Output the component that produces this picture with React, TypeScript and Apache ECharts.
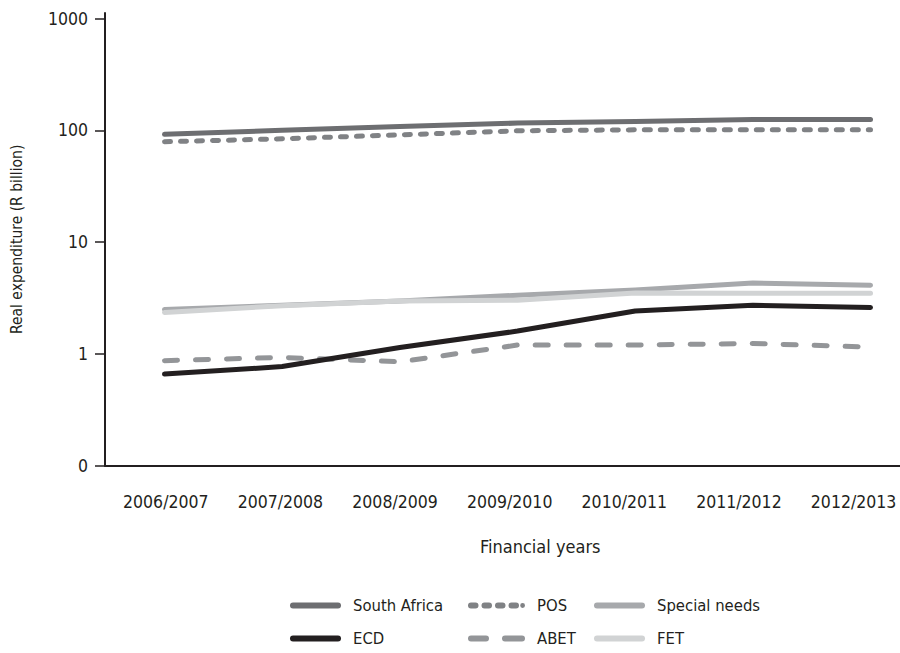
import React, { useEffect, useRef } from "react";
import * as echarts from "echarts";

const categories = ["2006/2007", "2007/2008", "2008/2009", "2009/2010", "2010/2011", "2011/2012", "2012/2013"];
const southAfrica = [92, 100, 108, 116, 120, 125, 125];
const pos = [79, 84, 91, 99, 101, 101, 101];
const specialNeeds = [2.5, 2.72, 2.98, 3.35, 3.72, 4.3, 4.12];
const fet = [2.35, 2.7, 2.98, 3.02, 3.5, 3.48, 3.48];
const ecd = [0.66, 0.77, 1.14, 1.6, 2.42, 2.72, 2.6];
const abet = [0.87, 0.93, 0.85, 1.2, 1.2, 1.24, 1.15];
const yTicks = [0.1, 1, 10, 100, 1000];

const FONT = "'DejaVu Sans Condensed', 'DejaVu Sans', sans-serif";
const INK = "#231f20";

// rounded segment path, 6 units tall
const seg = (a: number, b: number) =>
  `M${a + 3} 0 L${b - 3} 0 A3 3 0 0 1 ${b - 3} 6 L${a + 3} 6 A3 3 0 0 1 ${a + 3} 0 Z`;
const dot = (cx: number, r: number) => `M${cx - r} 3 A${r} ${r} 0 1 0 ${cx + r} 3 A${r} ${r} 0 1 0 ${cx - r} 3 Z`;
const ICON_SOLID = "path://" + seg(0, 51);
const ICON_POS = "path://" + seg(0, 10.5) + " " + seg(13.5, 24) + " " + seg(27, 37.5) + " " + seg(40.5, 51) + " " + dot(54.6, 2.4);
const ICON_ABET = "path://" + seg(0, 21) + " " + seg(34, 57);

export default function App() {
  const ref = useRef<HTMLDivElement>(null);
  useEffect(() => {
    if (!ref.current) return;
    const chart = echarts.init(ref.current, undefined, { renderer: "svg" });
    const pts = (arr: number[]) => arr.map((v, i) => [i, v]);
    const mk = (name: string, data: number[], color: string, type: any) => ({
      name,
      type: "line",
      xAxisIndex: 0,
      data: pts(data),
      symbol: "none",
      showSymbol: false,
      lineStyle: { color, width: 5, type, cap: "round", join: "round" },
      itemStyle: { color, borderWidth: 0 },
      z: 2,
    });
    const lg = (name: string, icon: string, left: number, top: number, width: number) => ({
      orient: "horizontal",
      padding: 0,
      left,
      top,
      itemWidth: width,
      itemHeight: 6,
      itemStyle: { borderWidth: 0 },
      textStyle: { fontFamily: FONT, fontSize: 16.5, color: INK, padding: [0, 0, 0, 7] },
      data: [{ name, icon }],
    });
    const ROW1 = 597;
    const ROW2 = 630;
    chart.setOption({
      animation: false,
      title: {
        text: "Financial years",
        left: 480,
        top: 537,
        padding: 0,
        textStyle: { fontFamily: FONT, fontSize: 18, fontWeight: "normal", color: INK },
      },
      grid: { left: 105, right: 0, top: 13, bottom: 187.3, containLabel: false },
      xAxis: [
        {
          type: "value",
          min: -0.5057,
          max: 6.2506,
          axisLine: { show: true, onZero: false, lineStyle: { color: INK, width: 2 } },
          axisTick: { show: false },
          axisLabel: { show: false },
          splitLine: { show: false },
        },
        {
          type: "value",
          position: "bottom",
          min: -0.5304,
          max: 6.405,
          axisLine: { show: false, onZero: false },
          axisTick: { show: false },
          splitLine: { show: false },
          axisLabel: {
            customValues: [0, 1, 2, 3, 4, 5, 6],
            formatter: (v: number) => categories[Math.round(v)] ?? "",
            margin: 27,
            fontFamily: FONT,
            fontSize: 17.5,
            color: INK,
          },
        },
      ],
      yAxis: {
        type: "log",
        logBase: 10,
        min: 0.1,
        max: 1120,
        axisLine: { show: true, onZero: false, lineStyle: { color: INK, width: 2 } },
        axisTick: { show: true, length: 10, customValues: yTicks, lineStyle: { color: INK, width: 1.5 } },
        splitLine: { show: false },
        axisLabel: {
          customValues: yTicks,
          formatter: (v: number) => (v < 0.5 ? "0" : String(Math.round(v))),
          margin: 17,
          fontFamily: FONT,
          fontSize: 17.5,
          color: INK,
        },
        name: "Real expenditure (R billion)",
        nameLocation: "middle",
        nameGap: 80,
        nameTextStyle: { fontFamily: FONT, fontSize: 15.5, color: INK },
      },
      legend: [
        lg("South Africa", ICON_SOLID, 290, ROW1, 51),
        lg("ECD", ICON_SOLID, 290, ROW2, 51),
        lg("POS", ICON_POS, 468, ROW1, 57),
        lg("ABET", ICON_ABET, 468, ROW2, 57),
        lg("Special needs", ICON_SOLID, 594, ROW1, 51),
        lg("FET", ICON_SOLID, 594, ROW2, 51),
      ],
      series: [
        mk("Special needs", specialNeeds, "#a7a9ac", "solid"),
        mk("FET", fet, "#d1d3d4", "solid"),
        mk("South Africa", southAfrica, "#6d6e71", "solid"),
        mk("POS", pos, "#808285", [6, 10]),
        mk("ABET", abet, "#939598", [13, 18]),
        mk("ECD", ecd, "#231f20", "solid"),
      ],
    });
    return () => chart.dispose();
  }, []);
  return <div ref={ref} style={{ width: 900, height: 653, position: "absolute", left: 0, top: 0 }} />;
}
